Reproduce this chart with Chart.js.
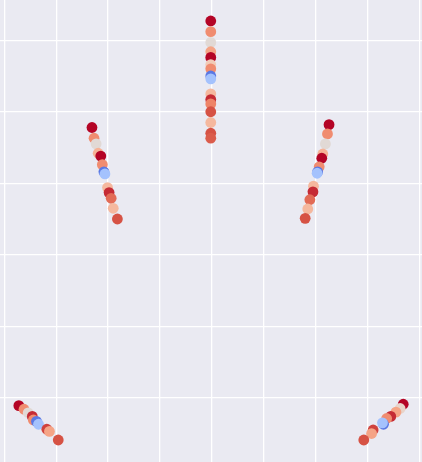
<!DOCTYPE html>
<html>
<head>
<meta charset="utf-8">
<script src="https://cdn.jsdelivr.net/npm/chart.js@4/dist/chart.umd.min.js"></script>
<style>
  html, body { margin: 0; padding: 0; background: #fff; }
  #wrap { width: 422px; height: 462px; position: relative; }
</style>
</head>
<body>
<div id="wrap"><canvas id="chart"></canvas></div>
<script>
// five clusters of points (grid step = 1)
const topX   = [3.98, 3.98, 3.98, 3.98, 3.98, 3.98, 3.98, 3.98, 3.98, 3.98, 3.98, 3.98, 3.98, 3.98, 3.98, 3.98];
const topY   = [5.27, 5.12, 4.97, 4.84, 4.76, 4.66, 4.60, 4.50, 4.46, 4.25, 4.17, 4.11, 4.00, 3.85, 3.70, 3.63];
const topHue = [1.00, 0.78, 0.52, 0.72, 1.00, 0.60, 0.78, 0.12, 0.38, 0.66, 0.95, 0.80, 0.90, 0.66, 0.90, 0.88];

const leftX   = [1.69, 1.73, 1.77, 1.81, 1.86, 1.89, 1.92, 1.94, 1.99, 2.02, 2.06, 2.10, 2.18];
const leftY   = [3.78, 3.63, 3.55, 3.42, 3.38, 3.26, 3.16, 3.13, 2.94, 2.87, 2.79, 2.65, 2.50];
const leftHue = [1.00, 0.78, 0.52, 0.68, 1.00, 0.78, 0.12, 0.38, 0.66, 0.95, 0.85, 0.66, 0.90];

const rightX   = [6.26, 6.23, 6.19, 6.14, 6.12, 6.07, 6.04, 6.03, 5.96, 5.95, 5.89, 5.85, 5.80];
const rightY   = [3.82, 3.69, 3.55, 3.41, 3.35, 3.23, 3.16, 3.14, 2.96, 2.88, 2.77, 2.64, 2.51];
const rightHue = [1.00, 0.78, 0.52, 0.68, 1.00, 0.78, 0.12, 0.38, 0.66, 0.95, 0.85, 0.66, 0.90];

const lowLX   = [0.28, 0.38, 0.46, 0.54, 0.56, 0.62, 0.66, 0.82, 0.87, 1.04];
const lowLY   = [-0.11, -0.16, -0.21, -0.26, -0.31, -0.33, -0.37, -0.44, -0.47, -0.59];
const lowLHue = [1.00, 0.78, 0.52, 0.95, 0.78, 0.12, 0.38, 0.92, 0.72, 0.90];

const lowRX   = [7.69, 7.63, 7.55, 7.45, 7.37, 7.31, 7.29, 7.11, 7.08, 6.93];
const lowRY   = [-0.09, -0.15, -0.20, -0.26, -0.29, -0.37, -0.35, -0.45, -0.50, -0.59];
const lowRHue = [1.00, 0.55, 0.72, 0.95, 0.78, 0.12, 0.38, 0.92, 0.72, 0.90];

// coolwarm colormap stops
const coolwarm = ['#3b4cc0', '#5572df', '#6f92f3', '#8db0fe', '#aac7fd', '#dddcdc',
                  '#f2cbb7', '#f7ac8e', '#ee8468', '#d65244', '#b40426'];

function hex2rgb(h) {
    return [1, 3, 5].map(i => parseInt(h.slice(i, i + 2), 16));
}

function cw(t) {
    const p = Math.max(0, Math.min(1, t)) * (coolwarm.length - 1);
    const i = Math.min(Math.floor(p), coolwarm.length - 2);
    const f = p - i;
    const a = hex2rgb(coolwarm[i]), b = hex2rgb(coolwarm[i + 1]);
    const c = a.map((v, k) => Math.round(v + (b[k] - v) * f));
    return `rgb(${c[0]},${c[1]},${c[2]})`;
}

function cluster(xs, ys, hues) {
    return {
        data: xs.map((x, i) => ({ x, y: ys[i] })),
        pointBackgroundColor: hues.map(cw),
        pointBorderWidth: 0,
        pointRadius: 5.4,
        pointHoverRadius: 5.4,
    };
}

const bgPlugin = {
    id: 'bg',
    beforeDraw(chart) {
        const { ctx, width, height } = chart;
        ctx.save();
        ctx.fillStyle = '#eaeaf2';
        ctx.fillRect(0, 0, width, height);
        ctx.restore();
    }
};

const axis = (min, max) => ({
    type: 'linear',
    min, max,
    ticks: { display: false, stepSize: 1, includeBounds: false },
    grid: { color: '#ffffff', lineWidth: 1.3, drawTicks: false },
    border: { display: false },
});

new Chart(document.getElementById('chart').getContext('2d'), {
    type: 'scatter',
    data: {
        datasets: [
            cluster(topX, topY, topHue),
            cluster(leftX, leftY, leftHue),
            cluster(rightX, rightY, rightHue),
            cluster(lowLX, lowLY, lowLHue),
            cluster(lowRX, lowRY, lowRHue),
        ]
    },
    options: {
        responsive: true,
        maintainAspectRatio: false,
        animation: false,
        layout: { padding: 0, autoPadding: false },
        scales: {
            x: axis(-0.083, 8.052),
            y: axis(-0.898, 5.563),
        },
        plugins: {
            legend: { display: false },
            tooltip: { enabled: false }
        }
    },
    plugins: [bgPlugin]
});
</script>
</body>
</html>
